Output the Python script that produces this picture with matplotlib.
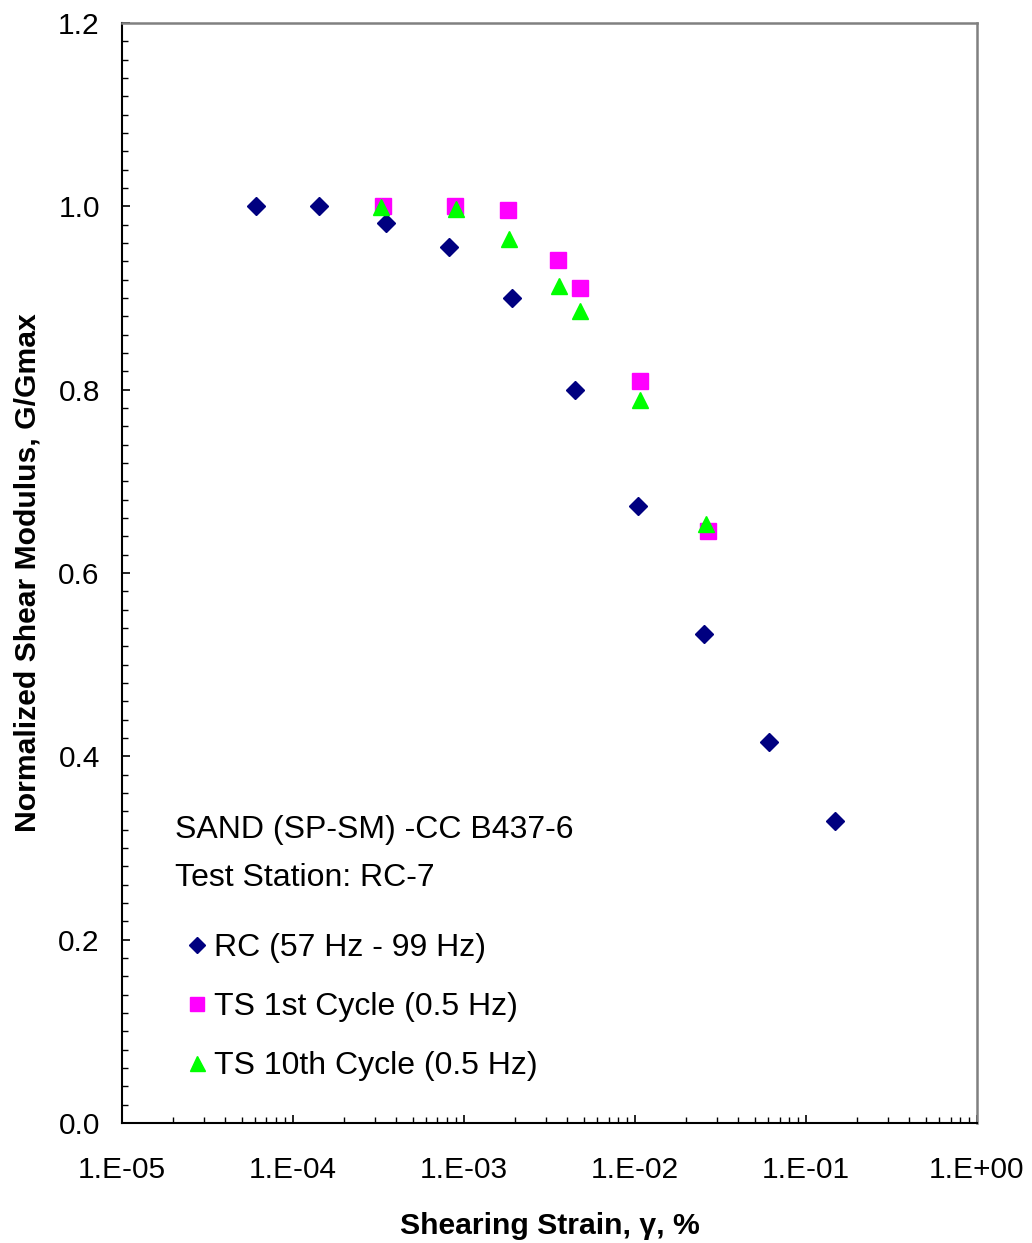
import numpy as np
import matplotlib
matplotlib.use("Agg")
import matplotlib.pyplot as plt
from matplotlib.ticker import LogLocator, FuncFormatter, MultipleLocator

plt.rcParams['font.family'] = ['Liberation Sans', 'DejaVu Sans']

# RC (57 Hz - 99 Hz)
rc_strain = [6.1e-5, 1.42e-4, 3.5e-4, 8.2e-4, 1.91e-3, 4.46e-3, 1.04e-2, 2.54e-2, 6.09e-2, 1.48e-1]
rc_ggmax = [1.000, 1.000, 0.982, 0.956, 0.900, 0.800, 0.673, 0.534, 0.416, 0.329]

# TS 1st cycle (0.5 Hz)
ts1_strain = [3.36e-4, 8.85e-4, 1.81e-3, 3.55e-3, 4.77e-3, 1.07e-2, 2.67e-2]
ts1_ggmax = [1.000, 1.000, 0.996, 0.942, 0.911, 0.810, 0.646]

# TS 10th cycle (0.5 Hz)
ts10_strain = [3.27e-4, 8.98e-4, 1.83e-3, 3.60e-3, 4.77e-3, 1.07e-2, 2.60e-2]
ts10_ggmax = [0.999, 0.997, 0.964, 0.913, 0.886, 0.789, 0.654]

fig = plt.figure(figsize=(10.32, 12.43), dpi=100)
ax = fig.add_axes([0.1182, 0.0965, 0.8285, 0.885])

ax.plot(rc_strain, rc_ggmax, linestyle='none', marker='D', markersize=9.5,
        color='#000080', label='RC (57 Hz - 99 Hz)')
ax.plot(ts1_strain, ts1_ggmax, linestyle='none', marker='s', markersize=11,
        color='#FF00FF', label='TS 1st Cycle (0.5 Hz)')
ax.plot(ts10_strain, ts10_ggmax, linestyle='none', marker='^', markersize=12,
        color='#00FF00', label='TS 10th Cycle (0.5 Hz)')

ax.set_xscale('log')
ax.set_xlim(1e-5, 1e0)
ax.set_ylim(0, 1.2)

ax.xaxis.set_major_locator(LogLocator(base=10, numticks=10))
ax.xaxis.set_minor_locator(LogLocator(base=10, subs=np.arange(2, 10), numticks=20))
ax.xaxis.set_major_formatter(FuncFormatter(lambda v, p: "1.E%+03d" % int(round(np.log10(v)))))
ax.yaxis.set_major_locator(MultipleLocator(0.2))
ax.yaxis.set_minor_locator(MultipleLocator(0.02))
ax.yaxis.set_major_formatter(FuncFormatter(lambda v, p: "%.1f" % v))

ax.tick_params(axis='both', which='both', direction='in', colors='black', labelsize=21.5)
ax.tick_params(axis='both', which='major', length=6, width=1.2)
ax.tick_params(axis='both', which='minor', length=4.5, width=1.0)
ax.tick_params(axis='x', which='major', pad=24)
ax.tick_params(axis='y', which='major', pad=16)

for side in ['left', 'bottom']:
    ax.spines[side].set_color('black')
    ax.spines[side].set_linewidth(1.5)
for side in ['top', 'right']:
    ax.spines[side].set_color('#808080')
    ax.spines[side].set_linewidth(1.8)

ax.set_xlabel('Shearing Strain, γ, %', fontsize=21.7, fontweight='bold', labelpad=20)
ax.set_ylabel('Normalized Shear Modulus, G/Gmax', fontsize=21.7, fontweight='bold', labelpad=12)

ax.text(0.062, 0.2664, 'SAND (SP-SM) -CC B437-6', transform=ax.transAxes,
        fontsize=23, va='center', ha='left')
ax.text(0.062, 0.2227, 'Test Station: RC-7', transform=ax.transAxes,
        fontsize=23, va='center', ha='left')

ax.legend(loc='upper left', bbox_to_anchor=(0.076, 0.1725), frameon=False,
          fontsize=23, handlelength=0.6, handletextpad=0.25, labelspacing=0.9,
          markerscale=0.9, borderpad=0, borderaxespad=0)

fig.savefig('out.png', dpi=100)
